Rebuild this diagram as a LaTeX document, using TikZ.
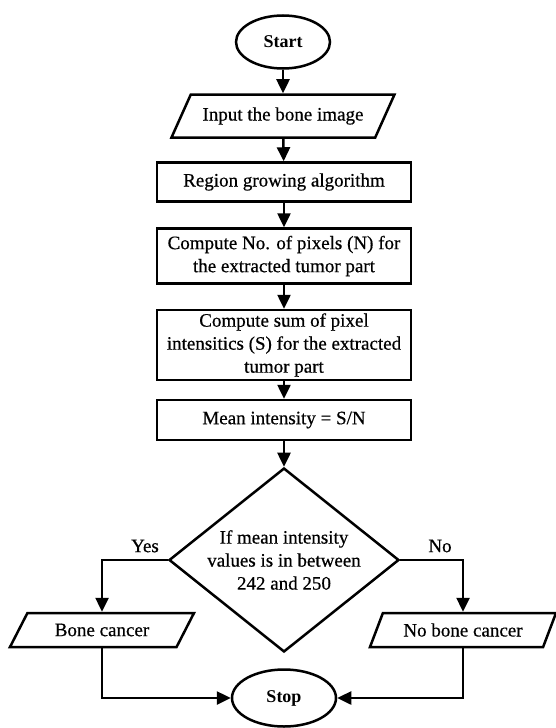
\documentclass[tikz,border=0pt]{standalone}
\usepackage{fontspec}
\setmainfont{Liberation Serif}
\newfontfamily\heavyserif{Liberation Serif}[FakeBold=0.5]
\usetikzlibrary{arrows.meta,shapes.geometric}

\tikzset{
  box/.style={draw, line width=2.5pt, minimum width=254pt, align=center, inner xsep=3pt, inner ysep=1pt},
  io/.style={draw, line width=2.5pt, trapezium, trapezium stretches body, inner ysep=1pt},
  term/.style={draw, line width=2.5pt, ellipse, inner sep=0pt, font=\fontsize{18}{20}\selectfont\bfseries},
  decide/.style={draw, line width=2.5pt, diamond, aspect=1.25, align=center, inner sep=-3pt},
  flow/.style={line width=2.5pt, -{Triangle[length=14pt,width=13pt]}},
}

\begin{document}
\begin{tikzpicture}[x=1pt, y=-1pt, font=\heavyserif\fontsize{19}{23}\selectfont]
  \useasboundingbox (0,0) rectangle (555,728);
  % main column
  \node[term, minimum width=94pt, minimum height=53pt] (start) at (283,42) {Start};
  \node[io, trapezium left angle=45, trapezium right angle=135, inner xsep=-15pt,
        minimum width=223pt, minimum height=43pt] (input) at (283,116) {Input the bone image};
  \node[box, minimum height=39pt] (region) at (284,182) {Region growing algorithm};
  \node[box, minimum height=55pt] (count) at (284,256) {Compute No. of pixels (N) for\\the extracted tumor part};
  \node[box, minimum height=70pt] (sum) at (284,345) {Compute sum of pixel\\intensitics (S) for the extracted\\tumor part};
  \node[box, minimum height=40pt] (mean) at (284,420) {Mean intensity = S/N};
  \node[decide, minimum width=230pt, minimum height=184pt] (dec) at (284,560)
    {If mean intensity\\values is in between\\242 and 250};
  % branches
  \node[io, trapezium left angle=40, trapezium right angle=140, inner xsep=1pt,
        minimum width=184pt, minimum height=34pt] (bone) at (102,630) {Bone cancer};
  \node[io, trapezium left angle=50, trapezium right angle=130, inner xsep=0pt,
        minimum width=186pt, minimum height=34pt] (nobone) at (463,630) {No bone cancer};
  \node[term, minimum width=104pt, minimum height=57pt] (stop) at (284,698) {Stop};
  \node (yes) at (145,546) {Yes};
  \node (no) at (440,546) {No};

  \draw[flow] (start) -- (input);
  \draw[flow] (input) -- (region);
  \draw[flow] (region) -- (count);
  \draw[flow] (count) -- (sum);
  \draw[flow] (sum) -- (mean);
  \draw[flow] (mean) -- (dec);
  \draw[flow] (dec.west) -| (bone.north);
  \draw[flow] (dec.east) -| (nobone.north);
  \draw[flow] (bone.south) |- (stop.west);
  \draw[flow] (nobone.south) |- (stop.east);
\end{tikzpicture}
\end{document}
